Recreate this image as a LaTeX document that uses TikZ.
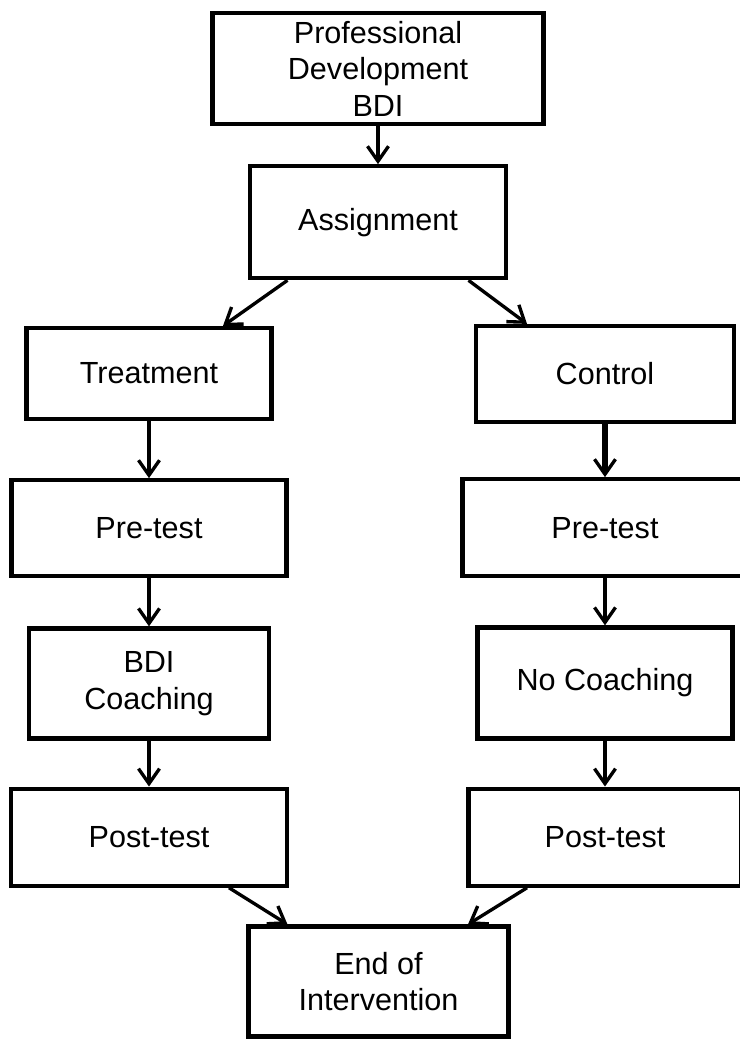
\documentclass[tikz,border=0pt]{standalone}
\usepackage{fontspec}
\setmainfont{Liberation Sans}
\usetikzlibrary{arrows.meta,positioning}

\begin{document}
\begin{tikzpicture}[
    box/.style={draw, line width=2.4pt, align=center, inner sep=2pt,
                font=\fontsize{17.4}{20.8}\selectfont},
    arr/.style={-{Straight Barb[length=0.3cm, width=0.42cm, line width'=1.9pt]},
                line width=1.9pt}
  ]
    \useasboundingbox (0,0) rectangle (14.8,-20.8);

    \node[box, minimum width=6.62cm, minimum height=2.22cm] (prof) at (7.56,-1.37)
      {Professional\\Development\\BDI};
    \node[box, minimum width=5.12cm, minimum height=2.24cm, below=0.76cm of prof] (assign)
      {Assignment};

    % treatment arm
    \node[box, minimum width=4.9cm, minimum height=1.82cm] (treat) at (2.98,-7.47) {Treatment};
    \node[box, minimum width=5.5cm, minimum height=1.92cm, below=1.14cm of treat] (preT) {Pre-test};
    \node[box, minimum width=4.8cm, minimum height=2.2cm, below=0.96cm of preT] (coachT) {BDI\\Coaching};
    \node[box, minimum width=5.52cm, minimum height=1.94cm, below=0.92cm of coachT] (postT) {Post-test};

    % control arm
    \node[box, minimum width=5.16cm, minimum height=1.92cm] (ctrl) at (12.1,-7.48) {Control};
    \node[box, minimum width=5.7cm, minimum height=1.94cm, below=1.06cm of ctrl] (preC) {Pre-test};
    \node[box, minimum width=5.1cm, minimum height=2.22cm, below=0.94cm of preC] (coachC) {No Coaching};
    \node[box, minimum width=5.46cm, minimum height=1.94cm, below=0.92cm of coachC] (postC) {Post-test};

    \node[box, minimum width=5.2cm, minimum height=2.2cm] (fin) at (7.57,-19.63) {End of\\Intervention};

    \draw[arr] (prof) -- (assign);
    \draw[arr] ([xshift=-1.81cm]assign.south) -- ([xshift=1.48cm]treat.north);
    \draw[arr] ([xshift=1.81cm]assign.south) -- ([xshift=-1.56cm]ctrl.north);
    \foreach \a/\b in {treat/preT, preT/coachT, coachT/postT, preC/coachC, coachC/postC}
      \draw[arr] (\a) -- (\b);
    \draw[arr, line width=3.4pt] (ctrl) -- (preC);
    \draw[arr] ([xshift=1.6cm]postT.south) -- ([xshift=-1.82cm]fin.north);
    \draw[arr] ([xshift=-1.56cm]postC.south) -- ([xshift=1.79cm]fin.north);
  \end{tikzpicture}
\end{document}
